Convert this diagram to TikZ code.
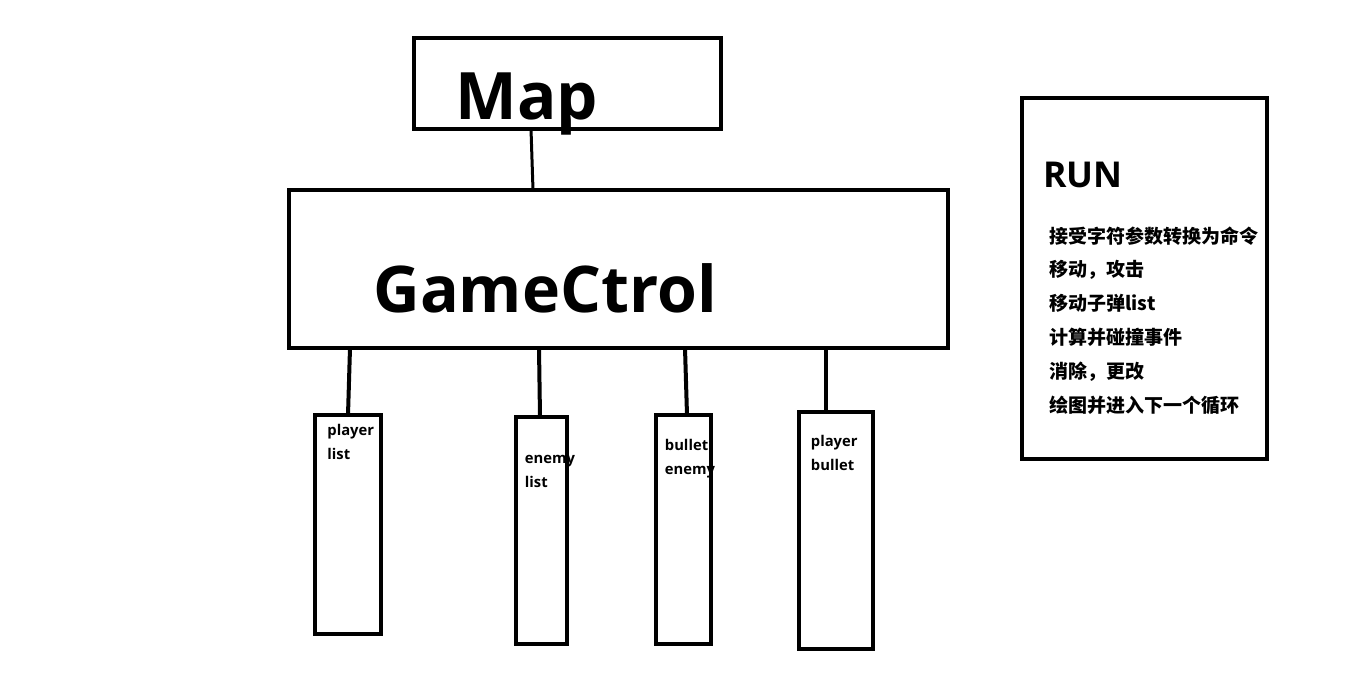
\documentclass[tikz,border=0pt]{standalone}
\usepackage{fontspec}
\setmainfont{Open Sans}
\newfontfamily\cjk{Noto Sans CJK SC}
\begin{document}
\begin{tikzpicture}[x=0.5pt,y=-0.5pt,
    box/.style={draw,line width=2.2pt,inner sep=0pt,outer sep=0pt},
    lbl/.style={inner sep=0pt,anchor=base west},
    wire/.style={line width=2pt}]
    \useasboundingbox (0,0) rectangle (1360,697);
    % boxes
    \node[box,minimum width=153.5pt,minimum height=45.5pt] (map) at (567.5,83.5) {};
    \node[box,minimum width=329.5pt,minimum height=79pt] (ctrl) at (618.5,269) {};
    \node[box,minimum width=33pt,minimum height=109.5pt] (plist) at (348,524.5) {};
    \node[box,minimum width=25.5pt,minimum height=113.5pt] (elist) at (541.5,530.5) {};
    \node[box,minimum width=27.5pt,minimum height=114.5pt] (benemy) at (683.5,529.5) {};
    \node[box,minimum width=37pt,minimum height=118.5pt] (pbullet) at (836,530.5) {};
    \node[box,minimum width=122.5pt,minimum height=180.5pt] (run) at (1144.5,278.5) {};
    % titles
    \node[lbl,font=\bfseries\fontsize{32.7}{33}\selectfont] (maptxt) at (455,119) {Map};
    \node[lbl,font=\bfseries\fontsize{32.2}{33}\selectfont] (ctrltxt) at (373,312) {GameCtrol};
    \node[lbl,font=\bfseries\fontsize{17.8}{18}\selectfont] (runtxt) at (1043,187) {RUN};
    \foreach \t [count=\i] in {接受字符参数转换为命令,移动，攻击,移动子弹list,计算并碰撞事件,消除，更改,绘图并进入下一个循环}
      \node[anchor=west,inner sep=0pt,font=\cjk\bfseries\fontsize{9.5}{9.5}\selectfont] (runstep\i) at (1049,{236+33.8*(\i-1)}) {\t};
    \foreach \n/\x/\y/\s/\t in {plist/327/435/player/list,elist/524.5/463/enemy/list,
        benemy/664.5/450/bullet/enemy,pbullet/810.5/446/player/bullet}{
      \node[lbl,font=\bfseries\fontsize{7.4}{7.4}\selectfont] (\n-1) at (\x,\y) {\s};
      \node[lbl,font=\bfseries\fontsize{7.4}{7.4}\selectfont] (\n-2) at (\x,\y+24) {\t};
    }
    % links
    \draw[line width=1.5pt] (map.south -| 531,0) -- (ctrl.north -| 533,0);
    \foreach \n/\a/\b in {plist/350/348,elist/539/540,benemy/685/687,pbullet/826/826}
      \draw[wire] (ctrl.south -| \a,0) -- (\n.north -| \b,0);
\end{tikzpicture}
\end{document}
